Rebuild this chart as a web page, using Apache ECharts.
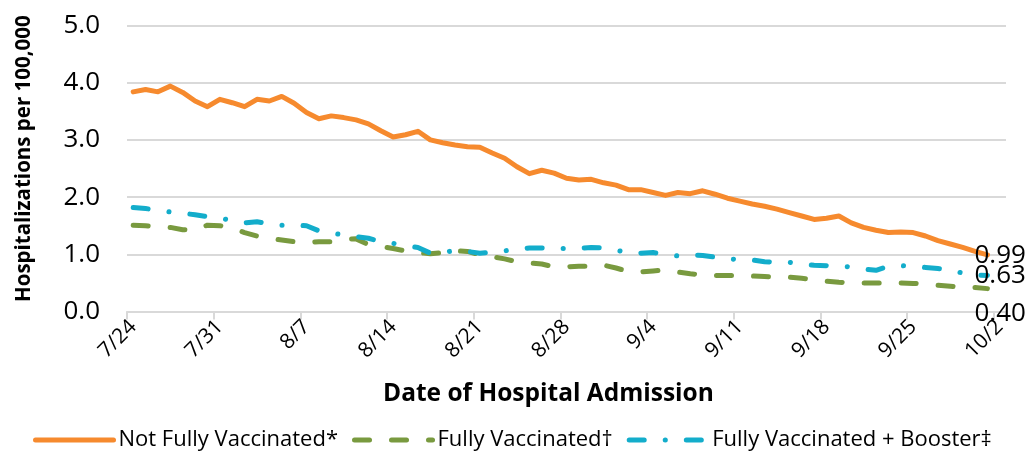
<!DOCTYPE html>
<html>
<head>
<meta charset="utf-8">
<script src="https://cdn.jsdelivr.net/npm/echarts@6/dist/echarts.min.js"></script>
<style>
html,body{margin:0;padding:0;background:#fff;}
#chart{width:1031px;height:452px;}
</style>
</head>
<body>
<div id="chart"></div>
<script>
var categories = ['7/24','7/25','7/26','7/27','7/28','7/29','7/30','7/31',
'8/1','8/2','8/3','8/4','8/5','8/6','8/7','8/8','8/9','8/10','8/11','8/12','8/13','8/14','8/15','8/16','8/17','8/18','8/19','8/20','8/21','8/22','8/23','8/24','8/25','8/26','8/27','8/28','8/29','8/30','8/31',
'9/1','9/2','9/3','9/4','9/5','9/6','9/7','9/8','9/9','9/10','9/11','9/12','9/13','9/14','9/15','9/16','9/17','9/18','9/19','9/20','9/21','9/22','9/23','9/24','9/25','9/26','9/27','9/28','9/29','9/30',
'10/1','10/2'];
var tickLabels = ['7/24','7/31','8/7','8/14','8/21','8/28','9/4','9/11','9/18','9/25','10/2'];
var yTicks = [0, 1, 2, 3, 4, 5];

var notFully = [3.84,3.88,3.84,3.94,3.83,3.68,3.58,3.71,3.65,3.58,
3.71,3.68,3.76,3.64,3.48,3.37,3.42,3.39,3.35,3.28,
3.16,3.05,3.09,3.15,3.00,2.95,2.91,2.88,2.87,2.77,
2.68,2.53,2.41,2.47,2.42,2.33,2.30,2.31,2.25,2.21,
2.13,2.13,2.08,2.03,2.08,2.06,2.11,2.05,1.98,1.93,
1.88,1.84,1.79,1.73,1.67,1.61,1.63,1.67,1.55,1.47,
1.42,1.38,1.39,1.38,1.32,1.24,1.18,1.12,1.05,0.99];

var fully = [1.51,1.50,1.48,1.47,1.43,1.42,1.51,1.50,1.46,1.38,
1.32,1.28,1.25,1.22,1.20,1.22,1.22,1.26,1.27,1.17,
1.14,1.10,1.06,1.03,1.01,1.03,1.06,1.05,0.99,0.96,
0.92,0.87,0.85,0.83,0.78,0.78,0.79,0.79,0.81,0.76,
0.70,0.69,0.71,0.73,0.69,0.66,0.64,0.63,0.63,0.63,
0.62,0.61,0.60,0.60,0.58,0.56,0.53,0.51,0.50,0.50,
0.50,0.50,0.50,0.49,0.48,0.46,0.44,0.42,0.42,0.40];

var booster = [1.82,1.80,1.77,1.74,1.72,1.69,1.66,1.63,1.59,1.55,
1.57,1.53,1.51,1.51,1.50,1.41,1.37,1.34,1.31,1.28,
1.22,1.19,1.15,1.12,1.02,1.04,1.06,1.05,1.02,1.04,
1.06,1.09,1.11,1.11,1.10,1.10,1.10,1.12,1.11,1.07,
1.03,1.02,1.03,1.00,0.97,0.99,0.98,0.95,0.92,0.91,
0.90,0.87,0.86,0.86,0.83,0.81,0.80,0.79,0.78,0.74,
0.72,0.79,0.80,0.79,0.77,0.75,0.73,0.67,0.64,0.63];

var seriesNames = ['Not Fully Vaccinated*', 'Fully Vaccinated\u2020', 'Fully Vaccinated + Booster\u2021'];
var colors = ['#F68A2E', '#799A3F', '#13ADCB'];

var FONT = "'Open Sans', 'Noto Sans', sans-serif";

function endLabel(offY) {
  return {
    show: true,
    formatter: function (p) { return Number(p.value).toFixed(2); },
    color: '#000',
    fontFamily: FONT,
    fontSize: 26,
    distance: 0,
    align: 'left',
    verticalAlign: 'middle',
    offset: [-13, offY]
  };
}

var chart = echarts.init(document.getElementById('chart'), null, {renderer: 'canvas'});
chart.setOption({
  animation: false,
  backgroundColor: '#fff',
  grid: {left: 127, right: 25, top: 25.5, bottom: 140.5, containLabel: false},
  xAxis: {
    type: 'category',
    data: categories,
    boundaryGap: true,
    axisLine: {show: true, lineStyle: {color: '#d9d9d9', width: 2}},
    axisTick: {
      show: true, length: 8, alignWithLabel: false,
      interval: function (i, v) { return tickLabels.indexOf(v) >= 0; },
      lineStyle: {color: '#d9d9d9', width: 2}
    },
    axisLabel: {
      interval: function (i, v) { return tickLabels.indexOf(v) >= 0; },
      rotate: 45, margin: 12,
      color: '#000', fontFamily: FONT, fontSize: 21
    },
    splitLine: {show: false}
  },
  yAxis: {
    type: 'value',
    min: yTicks[0], max: yTicks[yTicks.length - 1], interval: 1,
    axisLine: {show: false},
    axisTick: {show: false},
    axisLabel: {
      margin: 27, color: '#000', fontFamily: FONT, fontSize: 26,
      formatter: function (v) { return v.toFixed(1); }
    },
    splitLine: {lineStyle: {color: '#d9d9d9', width: 2}}
  },
  legend: {
    top: 424,
    left: 28,
    itemWidth: 78,
    itemHeight: 14,
    itemGap: 14,
    itemStyle: {color: 'rgba(0,0,0,0)', borderColor: 'rgba(0,0,0,0)', borderWidth: 0, opacity: 0},
    lineStyle: {width: 5, cap: 'round'},
    textStyle: {color: '#000', fontFamily: FONT, fontSize: 22},
    data: seriesNames
  },
  graphic: [
    {type: 'text', left: 383, top: 382,
     style: {text: 'Date of Hospital Admission', fill: '#000', font: "bold 24.5px 'Open Sans', sans-serif"}},
    {type: 'text', x: 14, y: 302, rotation: Math.PI / 2,
     style: {text: 'Hospitalizations per 100,000', fill: '#000', font: "bold 20.5px 'Open Sans', sans-serif", textAlign: 'left', textVerticalAlign: 'top'}}
  ],
  series: [
    {
      name: seriesNames[0], type: 'line', data: notFully, symbol: 'none',
      color: colors[0],
      lineStyle: {color: colors[0], width: 5, cap: 'round', join: 'round'},
      endLabel: endLabel(1)
    },
    {
      name: seriesNames[1], type: 'line', data: fully, symbol: 'none',
      color: colors[1],
      lineStyle: {color: colors[1], width: 5, type: [15, 22], cap: 'round', join: 'round'},
      endLabel: endLabel(25)
    },
    {
      name: seriesNames[2], type: 'line', data: booster, symbol: 'none',
      color: colors[2],
      lineStyle: {color: colors[2], width: 5, type: [15, 21, 0.1, 21], cap: 'round', join: 'round'},
      endLabel: endLabel(0)
    }
  ]
});
</script>
</body>
</html>
